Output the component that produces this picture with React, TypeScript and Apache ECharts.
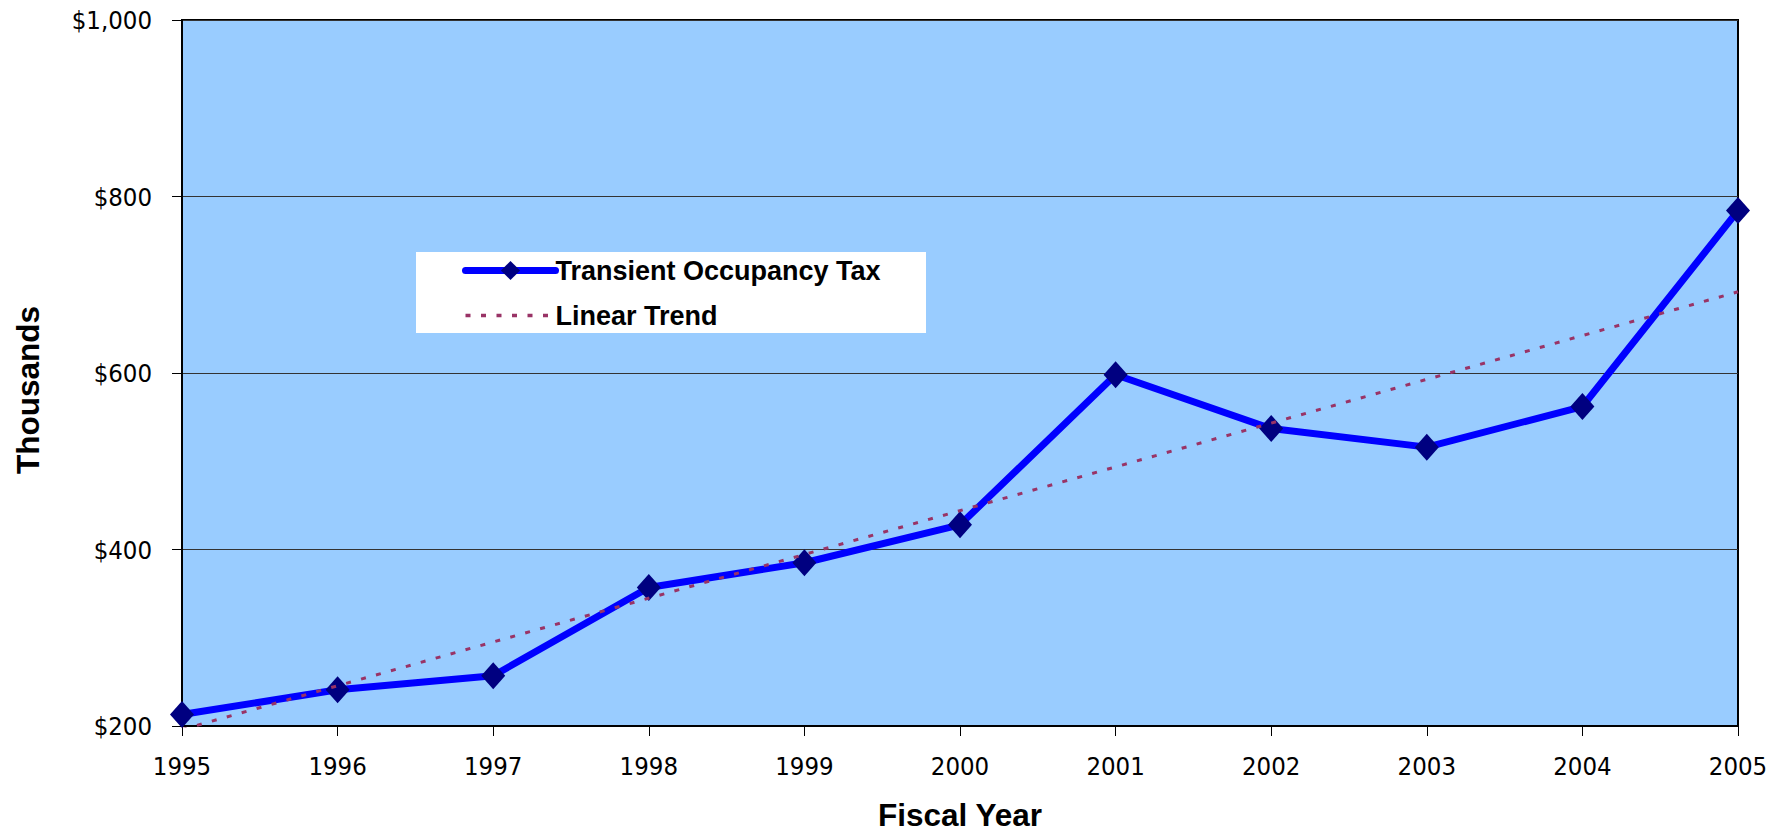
import React, { useEffect, useRef } from 'react';
import * as echarts from 'echarts';

const years = ['1995', '1996', '1997', '1998', '1999', '2000', '2001', '2002', '2003', '2004', '2005'];
const taxValues = [213, 241, 257, 357, 385, 428, 598, 537, 516, 562, 784];
// Linear trend read at its two ends (1995 and 2005)
const trendValues: (number | null)[] = [196, null, null, null, null, null, null, null, null, null, 692];
const yTicks = [200, 400, 600, 800, 1000];

const seriesName = 'Transient Occupancy Tax';
const trendName = 'Linear Trend';
const xTitle = 'Fiscal Year';
const yTitle = 'Thousands';

const tickFont = "'DejaVu Sans Condensed', 'DejaVu Sans', sans-serif";
const boldFont = "'Liberation Sans', Arial, sans-serif";

export default function App() {
  const ref = useRef<HTMLDivElement>(null);
  useEffect(() => {
    const chart = echarts.init(ref.current as HTMLDivElement, null, { renderer: 'svg' });
    chart.setOption({
      animation: false,
      backgroundColor: '#ffffff',
      grid: {
        left: 182,
        top: 20,
        width: 1556,
        height: 708,
        show: true,
        backgroundColor: '#99CCFF',
        borderColor: '#000000',
        borderWidth: 2,
      },
      xAxis: {
        type: 'category',
        data: years,
        boundaryGap: false,
        axisLine: { show: true, lineStyle: { color: '#000000', width: 2 } },
        axisTick: { show: true, length: 10, lineStyle: { color: '#000000', width: 1 } },
        axisLabel: { color: '#000000', fontFamily: tickFont, fontSize: 25.5, margin: 27 },
        splitLine: { show: false },
        name: xTitle,
        nameLocation: 'middle',
        nameGap: 73,
        nameTextStyle: { fontFamily: boldFont, fontWeight: 'bold', fontSize: 31.5, color: '#000000' },
      },
      yAxis: {
        type: 'value',
        min: yTicks[0],
        max: yTicks[yTicks.length - 1],
        interval: yTicks[1] - yTicks[0],
        axisLine: { show: true, lineStyle: { color: '#000000', width: 2 } },
        axisTick: { show: true, length: 10, lineStyle: { color: '#000000', width: 1 } },
        axisLabel: {
          color: '#000000',
          fontFamily: tickFont,
          fontSize: 25.5,
          margin: 30,
          formatter: (v: number) => '$' + v.toLocaleString('en-US'),
        },
        splitLine: { show: true, lineStyle: { color: '#333333', width: 1 } },
      },
      legend: {
        orient: 'vertical',
        left: 462,
        top: 257,
        padding: 0,
        itemWidth: 90,
        itemHeight: 24,
        itemGap: 18,
        selectedMode: false,
        z: 10,
        textStyle: {
          fontFamily: boldFont,
          fontWeight: 'bold',
          fontSize: 27,
          color: '#000000',
          lineHeight: 24,
          padding: [0, 0, 0, -5],
        },
        data: [
          {
            name: seriesName,
            itemStyle: { color: '#000080', borderWidth: 0 },
            lineStyle: { color: '#0000FF', width: 7, cap: 'round' },
          },
          {
            name: trendName,
            itemStyle: { opacity: 0 },
            lineStyle: { color: '#993366', width: 3.5, type: [5, 10.5] },
          },
        ],
      },
      graphic: [
        {
          type: 'rect',
          left: 416,
          top: 252,
          z: 5,
          shape: { width: 510, height: 81 },
          style: { fill: '#ffffff' },
        },
        {
          type: 'text',
          x: 28,
          y: 390,
          rotation: Math.PI / 2,
          style: {
            text: yTitle,
            fill: '#000000',
            font: `bold 31.5px ${boldFont}`,
            align: 'center',
            verticalAlign: 'middle',
          },
        },
      ],
      series: [
        {
          type: 'line',
          name: seriesName,
          data: taxValues,
          symbol: 'diamond',
          symbolSize: [24, 27],
          clip: false,
          z: 4,
          itemStyle: { color: '#000080' },
          lineStyle: { color: '#0000FF', width: 7 },
        },
        {
          type: 'line',
          name: trendName,
          data: trendValues,
          connectNulls: true,
          symbol: 'none',
          clip: true,
          z: 5,
          lineStyle: { color: '#993366', width: 3, type: [5, 10.5] },
        },
      ],
    });
    return () => chart.dispose();
  }, []);
  return (
    <div
      ref={ref}
      style={{ position: 'fixed', left: 0, top: 0, width: 1789, height: 836, background: '#ffffff' }}
    />
  );
}
